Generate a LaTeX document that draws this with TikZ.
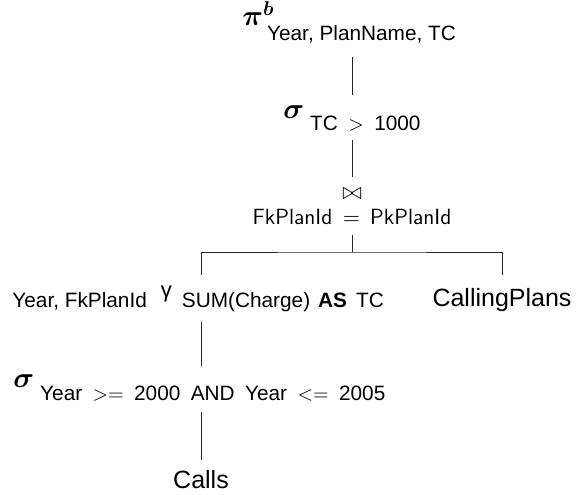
\documentclass[tikz,border=0pt]{standalone}
\usepackage{amsmath}
\usepackage{amssymb}
\usepackage{fontspec}
\setmainfont{Liberation Sans}
\usetikzlibrary{calc}

\newcommand{\grk}{\fontsize{15}{18}\selectfont}
\newcommand{\subf}{\fontsize{10.4}{12}\selectfont}
\newcommand{\leaffont}{\fontsize{12.5}{15}\selectfont}
\newcommand{\condfont}{\sffamily\fontsize{11}{13}\selectfont}
\newcommand{\opgap}{\hspace{5.2pt}}

\begin{document}
\begin{tikzpicture}[x=0.5pt, y=-0.5pt,
  op/.style={inner sep=0pt, anchor=base west},
  leaf/.style={inner sep=0pt, anchor=base, font=\leaffont},
  cond/.style={inner sep=0pt, anchor=base, font=\condfont},
  edge/.style={line width=0.4pt, black!85}
]
\useasboundingbox (0,0) rectangle (578,494);
\coordinate (trunk) at (352,0);
\coordinate (left) at (201,0);

% ------------------------------------------------------------
% Projection and selection on TC
% ------------------------------------------------------------

\node[op] (proj) at (242,25) {{\grk$\boldsymbol{\pi}$}\rlap{\raisebox{5pt}{\subf$\boldsymbol{b}$}}\hspace{2pt}\raisebox{-7.5pt}{\subf Year, PlanName, TC}};
\node[op] (selTC) at (283,118) {{\grk$\boldsymbol{\sigma}$}\hspace{3pt}\raisebox{-6pt}{\subf TC\opgap$>$\opgap1000}};

\draw[edge] ($(proj.base -| trunk)+(0,32)$) -- ($(selTC.base -| trunk)+(0,-23)$);

% ------------------------------------------------------------
% Join
% ------------------------------------------------------------

\node[cond, label={[name=bowtie, inner sep=0pt, label distance=4pt]above:{\fontsize{13}{15}\selectfont$\bowtie$}}] (join) at (352,224) {FkPlanId\opgap$=$\opgap PkPlanId};
\coordinate (split) at (352,252);

\draw[edge] ($(selTC.base -| trunk)+(0,22)$) -- ($(bowtie.north)+(0,-11)$);
\draw[edge] ($(join.base)+(0,11)$) -- (split);

% ------------------------------------------------------------
% Grouping and base relations
% ------------------------------------------------------------

\node[op] (group) at (12,307) {\subf Year, FkPlanId\hspace{7pt}\raisebox{5pt}{\fontsize{11}{13}\selectfont γ}\hspace{5pt}SUM(Charge)\hspace{4pt}\textbf{AS}\hspace{4.5pt}TC};
\node[leaf] (plans) at (502,306) {CallingPlans};

\draw[edge] ($(group.base -| left)+(0,-32)$) |- (split) -| ($(plans.base)+(0,-31)$);

\node[op] (selYear) at (13,387) {{\grk$\boldsymbol{\sigma}$}\hspace{3pt}\raisebox{-6.5pt}{\subf Year\opgap$>=$\opgap2000\opgap AND\opgap Year\opgap$<=$\opgap2005}};
\node[leaf] (calls) at (201,488) {Calls};

\draw[edge] ($(group.base -| left)+(0,15)$) -- ($(selYear.base -| left)+(0,-21)$);
\draw[edge] ($(selYear.base -| left)+(0,25)$) -- ($(calls.base)+(0,-28)$);

\end{tikzpicture}
\end{document}
